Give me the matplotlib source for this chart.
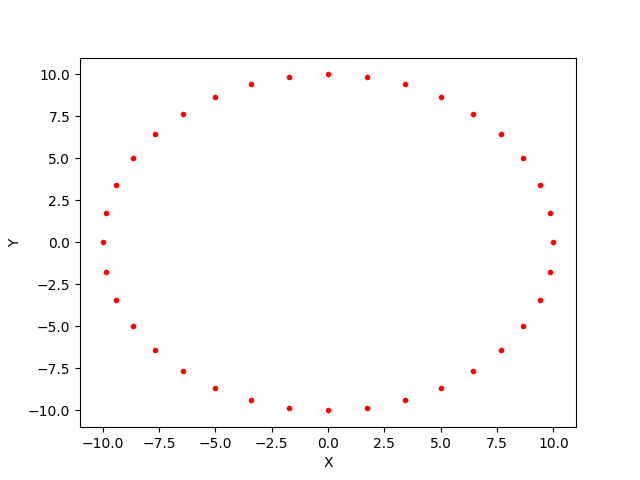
import matplotlib
matplotlib.use('Agg')
import matplotlib.pyplot as plt

# points (one every 10 degrees on a circle of radius 10)
x = [10.0, 9.85, 9.40, 8.66, 7.66, 6.43, 5.0, 3.42, 1.74, 0.0,
     -1.74, -3.42, -5.0, -6.43, -7.66, -8.66, -9.40, -9.85, -10.0,
     -9.85, -9.40, -8.66, -7.66, -6.43, -5.0, -3.42, -1.74, 0.0,
     1.74, 3.42, 5.0, 6.43, 7.66, 8.66, 9.40, 9.85]
y = [0.0, 1.74, 3.42, 5.0, 6.43, 7.66, 8.66, 9.40, 9.85, 10.0,
     9.85, 9.40, 8.66, 7.66, 6.43, 5.0, 3.42, 1.74, 0.0,
     -1.74, -3.42, -5.0, -6.43, -7.66, -8.66, -9.40, -9.85, -10.0,
     -9.85, -9.40, -8.66, -7.66, -6.43, -5.0, -3.42, -1.74]

fig = plt.figure(figsize=(6.4, 4.8), dpi=100)
plt.plot(x, y, 'r.')
plt.xlabel('X')
plt.ylabel('Y')
plt.savefig('out.png')
